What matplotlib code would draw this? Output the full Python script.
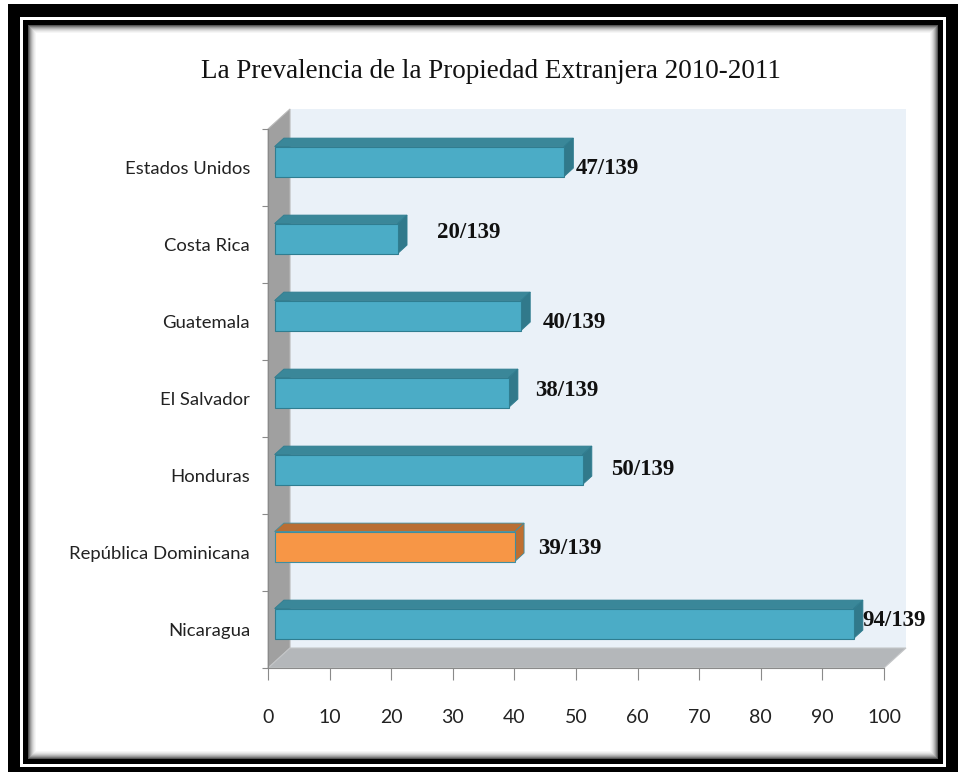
import matplotlib
matplotlib.use("Agg")
import matplotlib.pyplot as plt
from matplotlib.patches import Polygon, Rectangle

# ---------------- data ----------------
categories = ["Nicaragua", "República Dominicana", "Honduras", "El Salvador",
              "Guatemala", "Costa Rica", "Estados Unidos"]
values = [94, 39, 50, 38, 40, 20, 47]
value_labels = ["94/139", "39/139", "50/139", "38/139", "40/139", "20/139", "47/139"]
highlight = "República Dominicana"
x_ticks = [0, 10, 20, 30, 40, 50, 60, 70, 80, 90, 100]
title = "La Prevalencia de la Propiedad Extranjera 2010-2011"

# ---------------- style ----------------
W, H = 963, 774
PT = 72.0 / 100.0  # points per pixel
label_dx_px = [-1, 14, 19, 17, 13, 30, 2]
label_dy_px = [-3.5, 1.5, 0, -2.5, 6.5, -6.5, 6.5]

sans = ['Lato', 'DejaVu Sans']
serif = ['Liberation Serif', 'DejaVu Serif']

fig = plt.figure(figsize=(W / 100, H / 100), dpi=100)
fig.patch.set_facecolor('white')


def px_rect(x0, y0, x1, y1, **kw):
    r = Rectangle((x0 / W, 1 - y1 / H), (x1 - x0) / W, (y1 - y0) / H,
                  transform=fig.transFigure, **kw)
    fig.add_artist(r)
    return r

# frame
px_rect(8, 4, 958, 772, facecolor='black', edgecolor='none', zorder=0)
px_rect(20, 17, 946, 767, facecolor='white', edgecolor='none', zorder=0)
px_rect(23, 20, 943, 764, facecolor='black', edgecolor='none', zorder=0)
shadow = ['#555555', '#7a7a7a', '#9a9a9a', '#b5b5b5', '#cccccc', '#dedede', '#ececec', '#f6f6f6']
for k, c in enumerate(shadow):
    px_rect(28 + k, 25 + k, 938 - k, 759 - k, facecolor=c, edgecolor='none', zorder=0)
px_rect(28 + len(shadow), 25 + len(shadow), 938 - len(shadow), 759 - len(shadow),
        facecolor='white', edgecolor='none', zorder=0)

# ---------------- axes ----------------
x0px, x1px, ybot, ytop = 268, 884, 668, 112
cat_px = 77.0
ax = fig.add_axes([x0px / W, 1 - ybot / H, (x1px - x0px) / W, (ybot - ytop) / H])
ax.set_facecolor('none')
ax.set_zorder(2)
ax.set_xlim(0, 100)
ax.set_ylim(-0.5, -0.5 + (ybot - ytop) / cat_px)

xunit = (x1px - x0px) / 100.0
DX = 22 / xunit
DY = 20 / cat_px
d0, d1 = 0.3, 0.72
bh = 30 / cat_px
n = len(categories)

# walls
ax.add_patch(Polygon([(DX, -0.5 + DY), (100 + DX, -0.5 + DY), (100 + DX, n - 0.5 + DY), (DX, n - 0.5 + DY)],
                     closed=True, facecolor='#eaf1f8', edgecolor='none', clip_on=False, zorder=1))
ax.add_patch(Polygon([(0, -0.5), (0, n - 0.5), (DX, n - 0.5 + DY), (DX, -0.5 + DY)],
                     closed=True, facecolor='#a0a0a0', edgecolor='#b8b8b8', lw=0.8, clip_on=False, zorder=1))
ax.add_patch(Polygon([(0, -0.5), (100, -0.5), (100 + DX, -0.5 + DY), (DX, -0.5 + DY)],
                     closed=True, facecolor='#b4b7ba', edgecolor='#c4c6c8', lw=0.8, clip_on=False, zorder=1))

# bars
for i, (cat, v) in enumerate(zip(categories, values)):
    if cat == highlight:
        front, top, side, edge = '#f79646', '#b96e33', '#c06f30', '#3f8ea0'
    else:
        front, top, side, edge = '#4bacc6', '#3a8799', '#31798b', '#2f7d90'
    bx = d0 * DX
    cy = i + d0 * DY
    yb, yt = cy - bh / 2, cy + bh / 2
    ddx, ddy = (d1 - d0) * DX, (d1 - d0) * DY
    ax.add_patch(Polygon([(bx, yt), (bx + v, yt), (bx + v + ddx, yt + ddy), (bx + ddx, yt + ddy)],
                         closed=True, facecolor=top, edgecolor=edge, lw=0.6, clip_on=False, zorder=3))
    ax.add_patch(Polygon([(bx + v, yb), (bx + v + ddx, yb + ddy), (bx + v + ddx, yt + ddy), (bx + v, yt)],
                         closed=True, facecolor=side, edgecolor=edge, lw=0.6, clip_on=False, zorder=3))
    ax.add_patch(Rectangle((bx, yb), v, bh, facecolor=front, edgecolor=edge, lw=0.8,
                           clip_on=False, zorder=4))
    ax.annotate(value_labels[i], xy=(bx + v + ddx, cy), xycoords='data',
                xytext=(label_dx_px[i] * PT, -label_dy_px[i] * PT), textcoords='offset points',
                ha='left', va='center', fontsize=16.5, fontweight='bold',
                family=serif, color='#111111', zorder=5, annotation_clip=False)

# axis styling
for s in ['top', 'right']:
    ax.spines[s].set_visible(False)
ax.spines['bottom'].set_color('#8a8a8a')
ax.spines['left'].set_color('#8a8a8a')
ax.spines['left'].set_bounds(-0.5, n - 0.5)
ax.spines['bottom'].set_zorder(2)

ax.set_xticks(x_ticks)
ax.set_xticklabels([str(t) for t in x_ticks], family=sans, fontsize=14, color='#222222')
ax.tick_params(axis='x', direction='out', length=12 * PT, width=0.8, color='#8a8a8a', pad=29 * PT)

ax.set_yticks(range(n))
ax.set_yticklabels(categories, family=sans, fontsize=13.3, color='#222222')
ax.tick_params(axis='y', which='major', length=0, pad=18 * PT)
ax.set_yticks([k - 0.5 for k in range(n + 1)], minor=True)
ax.tick_params(axis='y', which='minor', direction='out', length=6 * PT, width=0.8, color='#8a8a8a')

fig.text(491 / W, 1 - 72 / H, title, ha='center', va='center', fontsize=19.5,
         family=serif, color='#111111')

fig.savefig('out.png', dpi=100, facecolor='white')
